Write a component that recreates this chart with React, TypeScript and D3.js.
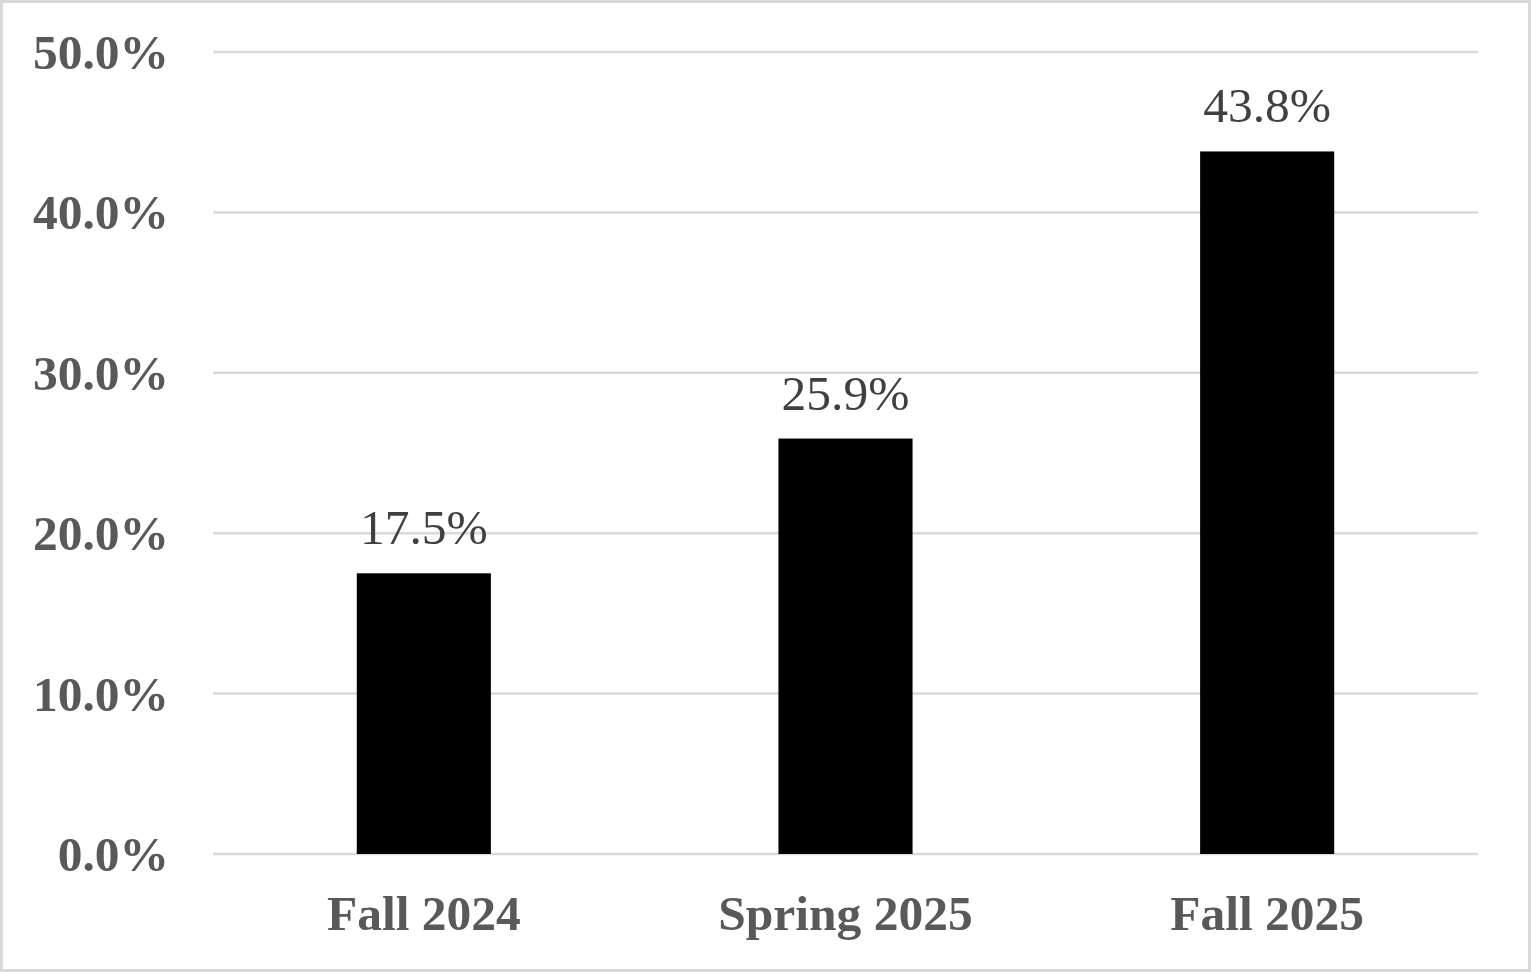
import * as d3 from "d3";

const categories = ["Fall 2024", "Spring 2025", "Fall 2025"];
const values = [0.175, 0.259, 0.438];
const yTicks = [0, 0.1, 0.2, 0.3, 0.4, 0.5];

const fmt = (v: number) => `${(v * 100).toFixed(1)}%`;

export default function App() {
  const width = 1531;
  const height = 972;
  const plot = { left: 213, right: 1478, top: 52, bottom: 854 };
  const font = "'Liberation Serif', 'Times New Roman', serif";
  const fontSize = 49.5;

  const x = d3
    .scaleBand()
    .domain(categories)
    .range([plot.left, plot.right])
    .paddingInner(0.682)
    .paddingOuter(0.341);
  const y = d3.scaleLinear().domain([0, 0.5]).range([plot.bottom, plot.top]);

  return (
    <svg
      width={width}
      height={height}
      viewBox={`0 0 ${width} ${height}`}
      style={{ position: "absolute", left: 0, top: 0, background: "#fff" }}
    >
      <rect x={1.5} y={1.5} width={width - 3} height={height - 3} fill="#fff" stroke="#d9d9d9" strokeWidth={3} />
      {yTicks.map((tick) => (
        <g key={tick}>
          <line x1={plot.left} x2={plot.right} y1={y(tick)} y2={y(tick)} stroke="#d9d9d9" strokeWidth={2.5} />
          <text
            x={169}
            y={y(tick) + 17}
            textAnchor="end"
            fontFamily={font}
            fontWeight="bold"
            fontSize={fontSize}
            fill="#595959"
          >
            {fmt(tick)}
          </text>
        </g>
      ))}
      {categories.map((cat, i) => {
        const bx = x(cat) ?? 0;
        const v = values[i];
        return (
          <g key={cat}>
            <rect x={bx} y={y(v)} width={x.bandwidth()} height={y(0) - y(v)} fill="#000" />
            <text
              x={bx + x.bandwidth() / 2}
              y={y(v) - 29}
              textAnchor="middle"
              fontFamily={font}
              fontSize={fontSize}
              fill="#404040"
            >
              {fmt(v)}
            </text>
            <text
              x={bx + x.bandwidth() / 2}
              y={930}
              textAnchor="middle"
              fontFamily={font}
              fontWeight="bold"
              fontSize={fontSize}
              fill="#595959"
            >
              {cat}
            </text>
          </g>
        );
      })}
    </svg>
  );
}
